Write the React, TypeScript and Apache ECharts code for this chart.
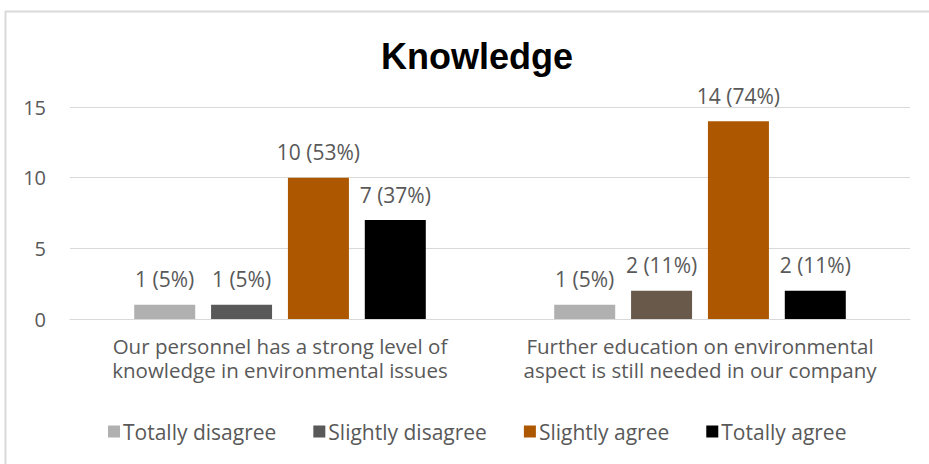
import React, { useEffect, useRef } from "react";
import * as echarts from "echarts";

const categories = [
  "Our personnel has a strong level of\nknowledge in environmental issues",
  "Further education on environmental\naspect is still needed in our company",
];
const seriesNames = ["Totally disagree", "Slightly disagree", "Slightly agree", "Totally agree"];
const counts = [
  [1, 1],
  [1, 2],
  [10, 14],
  [7, 2],
];
const percents = [
  [5, 5],
  [5, 11],
  [53, 74],
  [37, 11],
];
const colors = ["#b0b0b0", "#595959", "#ad5800", "#000000"];
const specialColor = "#68594a";
const yTicks = [0, 5, 10, 15];

export default function App() {
  const ref = useRef<HTMLDivElement>(null);
  useEffect(() => {
    document.body.style.margin = "0";
    const chart = echarts.init(ref.current!, null, { renderer: "svg" });
    const font = "'Open Sans', 'Noto Sans', sans-serif";
    chart.setOption({
      animation: false,
      backgroundColor: "#ffffff",
      title: {
        text: "Knowledge",
        left: 376,
        top: 33,
        textStyle: { fontFamily: "'Liberation Sans', Arial, sans-serif", fontWeight: "bold", fontSize: 36, color: "#000" },
      },
      graphic: [
        { type: "line", shape: { x1: 5, y1: 11.5, x2: 929, y2: 11.5 }, style: { stroke: "#d9d9d9", lineWidth: 2 } },
        { type: "line", shape: { x1: 5.5, y1: 11, x2: 5.5, y2: 464 }, style: { stroke: "#d9d9d9", lineWidth: 2 } },
      ],
      legend: {
        top: 416,
        left: 103,
        itemWidth: 12,
        itemHeight: 12,
        itemGap: 37,
        icon: "rect",
        textStyle: { fontFamily: font, fontSize: 21, color: "#595959", padding: [0, 0, 0, -2] },
        data: seriesNames,
      },
      grid: { left: 70, right: 19, top: 107, bottom: 145 },
      xAxis: {
        type: "category",
        data: categories,
        axisLine: { lineStyle: { color: "#d9d9d9" } },
        axisTick: { show: false },
        axisLabel: {
          interval: 0,
          align: "center",
          fontFamily: font,
          fontSize: 20.5,
          color: "#595959",
          lineHeight: 24,
          margin: 15,
        },
      },
      yAxis: {
        type: "value",
        min: yTicks[0],
        max: yTicks[yTicks.length - 1],
        interval: 5,
        axisLine: { show: false },
        axisTick: { show: false },
        splitLine: { lineStyle: { color: "#d9d9d9" } },
        axisLabel: { fontFamily: font, fontSize: 20, color: "#595959", margin: 24 },
      },
      series: seriesNames.map((name, i) => ({
        name,
        type: "bar",
        barWidth: 61,
        barGap: "26%",
        itemStyle: { color: colors[i] },
        data: counts[i].map((v, j) =>
          i === 1 && j === 1 ? { value: v, itemStyle: { color: specialColor } } : v
        ),
        label: {
          show: true,
          position: "top",
          distance: 15,
          fontFamily: font,
          fontSize: 21,
          color: "#595959",
          formatter: (p: any) => `${p.value} (${percents[i][p.dataIndex]}%)`,
        },
      })),
    });
    return () => chart.dispose();
  }, []);
  return <div ref={ref} style={{ width: 929, height: 464 }} />;
}
